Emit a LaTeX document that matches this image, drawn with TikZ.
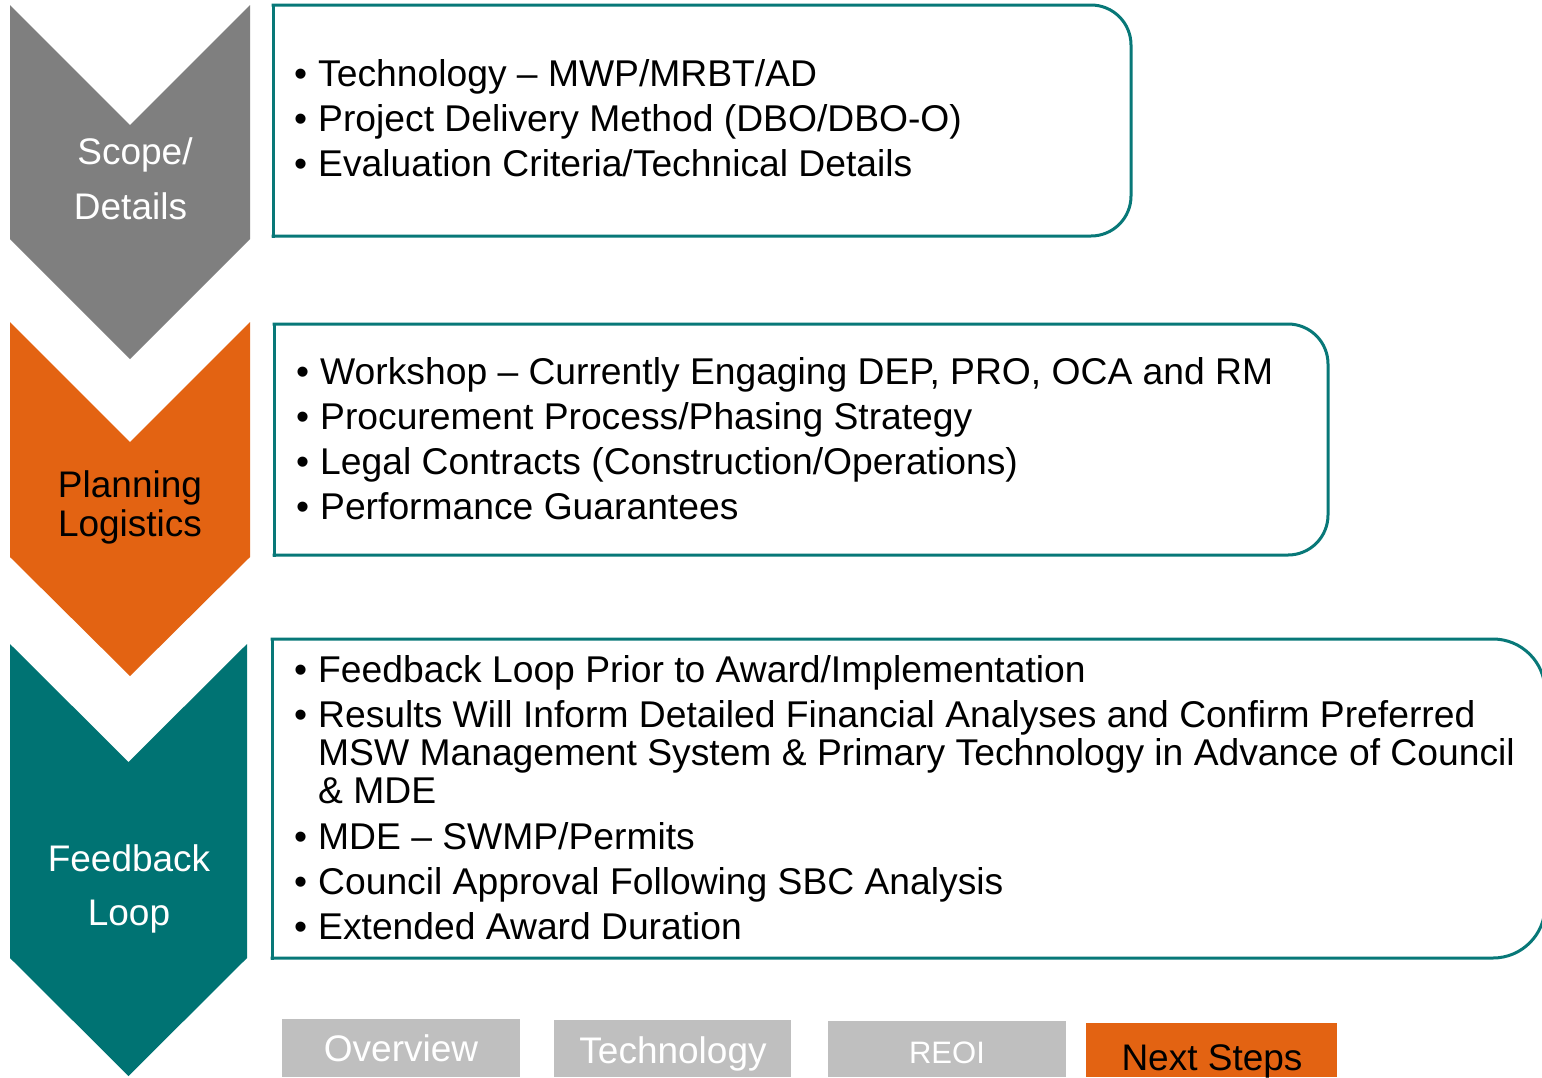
\documentclass[tikz,border=0pt]{standalone}
\usepackage{fontspec}
\setmainfont{Liberation Sans}
\definecolor{cgray}{RGB}{127,127,127}
\definecolor{corange}{RGB}{227,99,18}
\definecolor{cteal}{RGB}{0,115,115}
\definecolor{cborder}{RGB}{8,120,120}
\definecolor{ctab}{RGB}{191,191,191}
\begin{document}
\begin{tikzpicture}[x=1pt,y=-1pt,
  boxline/.style={draw=cborder, line width=3pt, line cap=rect, line join=round},
  item/.style={anchor=base west, inner sep=0pt, font=\fontsize{37.25}{44}\selectfont},
  lbl/.style={anchor=base, inner sep=0pt, font=\fontsize{37}{44}\selectfont},
  tabtext/.style={anchor=base, inner sep=0pt, font=\fontsize{37}{44}\selectfont}]
\useasboundingbox (0,0) rectangle (1542,1077);
\fill[white] (0,0) rectangle (1542,1077);

% chevrons
\fill[cgray] (10,5) -- (130,125) -- (250,5) -- (250,239) -- (130,359) -- (10,239) -- cycle;
\fill[corange] (10,322) -- (130,442) -- (250,322) -- (250,557) -- (130,676) -- (10,557) -- cycle;
\fill[cteal] (10,644) -- (128.5,762) -- (247,644) -- (247,958) -- (128.5,1076) -- (10,958) -- cycle;

\node[lbl, text=white] (c1a) at (135,164) {Scope/};
\node[lbl, text=white] (c1b) at (130.5,219) {Details};
\node[lbl, text=black] (c2a) at (130,497) {Planning};
\node[lbl, text=black] (c2b) at (130,536) {Logistics};
\node[lbl, text=white] (c3a) at (129,871) {Feedback};
\node[lbl, text=white] (c3b) at (129,925) {Loop};

% boxes
\draw[boxline, rounded corners=40pt] (273,5) -- (1131,5) -- (1131,236) -- (273,236);
\draw[boxline] (273,5) -- (273,236);
\draw[boxline, rounded corners=40pt] (274,324) -- (1328,324) -- (1328,555) -- (274,555);
\draw[boxline] (274,324) -- (274,555);
\draw[boxline, rounded corners=52pt] (272,639) -- (1545,639) -- (1545,958) -- (272,958);
\draw[boxline] (272,639) -- (272,958);

% box 1 text
\node[item] (a1) at (318,86) {\llap{•\hspace{11pt}}Technology – MWP/MRBT/AD};
\node[item] (a2) at (318,131) {\llap{•\hspace{11pt}}Project Delivery Method (DBO/DBO-O)};
\node[item] (a3) at (318,176) {\llap{•\hspace{11pt}}Evaluation Criteria/Technical Details};

% box 2 text
\node[item] (b1) at (320,384) {\llap{•\hspace{11pt}}Workshop – Currently Engaging DEP, PRO, OCA and RM};
\node[item] (b2) at (320,429) {\llap{•\hspace{11pt}}Procurement Process/Phasing Strategy};
\node[item] (b3) at (320,474) {\llap{•\hspace{11pt}}Legal Contracts (Construction/Operations)};
\node[item] (b4) at (320,519) {\llap{•\hspace{11pt}}Performance Guarantees};

% box 3 text
\node[item] (d1) at (318,682) {\llap{•\hspace{11pt}}Feedback Loop Prior to Award/Implementation};
\node[item] (d2) at (318,727) {\llap{•\hspace{11pt}}Results Will Inform Detailed Financial Analyses and Confirm Preferred};
\node[item] (d2b) at (318,765) {MSW Management System \& Primary Technology in Advance of Council};
\node[item] (d2c) at (318,803) {\& MDE};
\node[item] (d3) at (318,849) {\llap{•\hspace{11pt}}MDE – SWMP/Permits};
\node[item] (d4) at (318,894) {\llap{•\hspace{11pt}}Council Approval Following SBC Analysis};
\node[item] (d5) at (318,939) {\llap{•\hspace{11pt}}Extended Award Duration};

% bottom tabs
\fill[ctab] (282,1019) rectangle (520,1077);
\fill[ctab] (554,1020) rectangle (791,1077);
\fill[ctab] (828,1021) rectangle (1066,1077);
\fill[corange] (1086,1023) rectangle (1337,1077);
\node[tabtext, text=white] (t1) at (401,1061) {Overview};
\node[tabtext, text=white] (t2) at (673,1063) {Technology};
\node[tabtext, text=white, font=\fontsize{31}{36}\selectfont] (t3) at (947,1063) {REOI};
\node[tabtext, text=black] (t4) at (1212,1070) {Next Steps};
\end{tikzpicture}
\end{document}
